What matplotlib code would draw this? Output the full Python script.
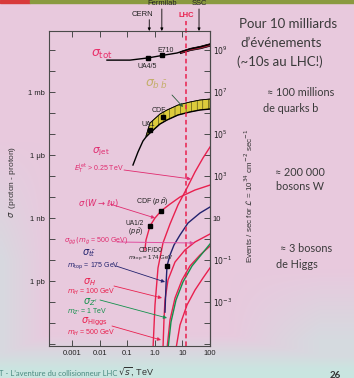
import numpy as np
import matplotlib
matplotlib.use("Agg")
import matplotlib.pyplot as plt
from matplotlib.ticker import NullLocator
from matplotlib.transforms import blended_transform_factory
from matplotlib.patches import Rectangle

plt.rcParams['font.family'] = ['Liberation Sans', 'DejaVu Sans']
plt.rcParams['hatch.linewidth'] = 0.4

W, H = 354, 378
nan = np.nan

# ---------------- data (sqrt(s) in TeV) ----------------
tot_sqrt_s = [0.0185, 0.126, 0.568, 2.34, 6.37, 18.8, 43.4, 100]
tot_sigma_mb = [33, 33, 42, 58, 72, 112, 139, 185]
tot_band_sqrt_s = [8.0, 18.8, 43.4, 100]
tot_band_lo_mb = [70, 98, 120, 160]
tot_band_hi_mb = [88, 128, 160, 215]
tot_pts_sqrt_s = [0.568, 1.8]
tot_pts_mb = [42, 58]

bb_sqrt_s = [0.162, 0.246, 0.373, 0.48, 0.67, 1.54, 2.77, 6.93, 18.8, 43.4, 100]
bb_low_ub = [0.334, 1.39, 4.64, 7.2, 11.2, 29.9, 46.4, 80.4, 112, 139, 155]
bb_high_ub = [nan, nan, nan, 8.0, 33.4, 89.6, 139, 240, 334, 416, 464]
bb_pts_sqrt_s = [0.67, 1.98]
bb_pts_ub = [15.5, 64]

jet_sqrt_s = [0.861, 1.016, 1.306, 1.98, 3.56, 6.93, 14.7, 28.6, 55.7, 100]
jet_sigma_nb = [6e-7, 7.2e-5, 4.2e-3, 0.065, 0.52, 4.2, 27, 155, 720, 2400]

W_sqrt_s = [0.44, 0.48, 0.67, 1.016, 1.68, 3.56, 8.18, 28.6, 100]
W_sigma_nb = [0.03, 0.09, 0.42, 1.0, 2.15, 4.6, 10, 21.5, 37]
W_pts_sqrt_s = [0.67, 1.68]
W_pts_nb = [0.42, 2.15]

tt_sqrt_s = [2.34, 2.55, 2.77, 3.56, 4.97, 8.18, 16.0, 43.4, 100]
tt_sigma_nb = [3.3e-5, 6.5e-4, 5.2e-3, 0.0173, 0.052, 0.155, 0.58, 1.73, 3.34]
tt_pts_sqrt_s = [2.77]
tt_pts_nb = [0.0052]

gg_sqrt_s = [1.98, 2.15, 2.34, 3.01, 5.40, 12.4, 28.6, 100]
gg_sigma_nb = [6e-7, 1.4e-5, 1.24e-4, 1.12e-3, 8.0e-3, 0.030, 0.072, 0.173]

H100_sqrt_s = [2.77, 3.56, 5.40, 9.68, 18.8, 43.4, 100]
H100_sigma_nb = [6e-7, 1.4e-5, 1.55e-4, 1.12e-3, 5.2e-3, 0.0173, 0.046]

Zp_sqrt_s = [3.01, 3.86, 5.86, 10.5, 22.3, 47.2, 100]
Zp_sigma_nb = [6e-7, 1.12e-5, 1.24e-4, 9.0e-4, 5.2e-3, 0.0173, 0.058]

H500_sqrt_s = [5.86, 8.18, 14.7, 28.6, 55.7, 100]
H500_sigma_nb = [6e-7, 8.0e-6, 7.2e-5, 3.7e-4, 1.39e-3, 4.2e-3]

machines = ['CERN', 'Fermilab', 'LHC', 'SSC']
machine_sqrt_s = [0.63, 1.8, 14, 40]

x_ticks = [1e-3, 1e-2, 1e-1, 1, 10, 100]
x_ticklabels = ['0.001', '0.01', '0.1', '1.0', '10', '100']
y_ticks_nb = [1e6, 1e3, 1, 1e-3]
y_ticklabels = ['1 mb', '1 \u03bcb', '1 nb', '1 pb']

# ---------------- figure ----------------
fig = plt.figure(figsize=(3.54, 3.78), dpi=100)

# background (photo-like tint)
bg = fig.add_axes([0, 0, 1, 1], zorder=-10)
gy, gx = np.mgrid[0:H:4, 0:W:4].astype(float)
wb = np.clip((gy - 335) / 35, 0, 1)
wl = np.clip((45 - gx) / 45, 0, 1) * np.clip((gy - 140) / 120, 0, 1) * 0.55
wr = np.clip((gx - 230) / 90, 0, 1) * np.clip((gy - 270) / 70, 0, 1) * 0.6
w = np.maximum(np.maximum(wb, wl), wr)[..., None]
pink = np.array([0.91, 0.79, 0.87])
cyan = np.array([0.79, 0.90, 0.88])
img = pink * (1 - w) + cyan * w
bg.imshow(img, extent=[0, 1, 0, 1], aspect='auto', interpolation='bilinear')
bg.axis('off')
fig.patches.append(Rectangle((0, 1 - 3 / H), 30 / W, 3 / H, transform=fig.transFigure,
                             color='#d83a3a', zorder=-5))
fig.patches.append(Rectangle((30 / W, 1 - 3 / H), 1, 3 / H, transform=fig.transFigure,
                             color='#8a9a40', zorder=-5))

ax = fig.add_axes([49 / W, 1 - 346 / H, 161 / W, 315 / H])
ax.set_facecolor('none')
ax.set_xscale('log')
ax.set_yscale('log')
ax.set_xlim(10 ** -3.833, 100)
ax.set_ylim(10 ** -6.095, 10 ** 8.905)

RED = '#e8204e'
NAVY = '#22226e'
GREEN = '#13914c'

# sigma_tot
ax.plot(tot_sqrt_s, np.array(tot_sigma_mb) * 1e6, color='black', lw=1.0)
ax.fill_between(tot_band_sqrt_s, np.array(tot_band_lo_mb) * 1e6, np.array(tot_band_hi_mb) * 1e6,
                facecolor='#c02040', edgecolor='black', lw=0.5)
ax.plot(tot_pts_sqrt_s, np.array(tot_pts_mb) * 1e6, 's', color='black', ms=2.2)

# sigma_bb
bb_lo = np.array(bb_low_ub) * 1e3
bb_hi = np.array(bb_high_ub) * 1e3
ok = ~np.isnan(bb_hi)
ax.fill_between(np.array(bb_sqrt_s)[ok], bb_lo[ok], bb_hi[ok], facecolor='#dccb3c',
                edgecolor='#3a3a14', hatch='|||', lw=0.5)
ax.plot(bb_sqrt_s, bb_lo, color='black', lw=1.0)
ax.plot(np.array(bb_sqrt_s)[ok], bb_hi[ok], color='black', lw=0.6)
ax.plot(bb_pts_sqrt_s, np.array(bb_pts_ub) * 1e3, 's', color='black', ms=2.4)

# other processes
ax.plot(jet_sqrt_s, jet_sigma_nb, color=RED, lw=1.0)
ax.plot(W_sqrt_s, W_sigma_nb, color=RED, lw=1.0)
ax.plot(W_pts_sqrt_s, W_pts_nb, 's', color='black', ms=2.4)
ax.plot(gg_sqrt_s, gg_sigma_nb, color=RED, lw=1.0)
ax.plot(tt_sqrt_s, tt_sigma_nb, color=NAVY, lw=1.0)
ax.plot(tt_pts_sqrt_s, tt_pts_nb, 's', color='black', ms=2.4)
ax.plot(H100_sqrt_s, H100_sigma_nb, color=RED, lw=1.0)
ax.plot(Zp_sqrt_s, Zp_sigma_nb, color=GREEN, lw=1.0)
ax.plot(H500_sqrt_s, H500_sigma_nb, color=RED, lw=1.0)

# LHC dashed line
ax.axvline(machine_sqrt_s[2], ymin=0, ymax=1.032, color=RED, lw=1.1, ls=(0, (3, 2)), clip_on=False)

# axes ticks
for s in ax.spines.values():
    s.set_color('#4a4a4a')
    s.set_linewidth(0.8)
ax.set_xticks(x_ticks)
ax.set_xticklabels(x_ticklabels)
ax.xaxis.set_minor_locator(NullLocator())
ydec = [10.0 ** k for k in range(-6, 9)]
ax.set_yticks(ydec)
ax.set_yticklabels([y_ticklabels[y_ticks_nb.index(v)] if v in y_ticks_nb else '' for v in ydec])
ax.yaxis.set_minor_locator(NullLocator())
ax.tick_params(axis='both', direction='in', length=4, width=0.7, color='#4a4a4a',
               labelsize=5.5, labelcolor='#222222', top=True, right=False)
ax.tick_params(axis='y', pad=3)
ax.tick_params(axis='x', pad=3)

sec = ax.secondary_yaxis('right', functions=(lambda s: s * 10, lambda r: r / 10))
rdec = [10.0 ** k for k in range(-5, 10)]
rlab = []
for k in range(-5, 10):
    if k in (9, 7, 5, 3, -1, -3):
        rlab.append(r'$10^{%d}$' % k)
    elif k == 1:
        rlab.append('10')
    else:
        rlab.append('')
sec.set_yticks(rdec)
sec.set_yticklabels(rlab)
sec.yaxis.set_minor_locator(NullLocator())
sec.tick_params(axis='y', direction='in', length=4, width=0.7, color='#4a4a4a',
                labelsize=5.5, labelcolor='#222222', pad=2)
sec.spines['right'].set_color('#4a4a4a')
sec.spines['right'].set_linewidth(0.8)

# machine arrows
tr = blended_transform_factory(ax.transData, ax.transAxes)
for name, e in zip(machines, machine_sqrt_s):
    if name == 'LHC':
        ax.text(e, 1.05, name, transform=tr, ha='center', va='center', fontsize=5.5,
                color=RED, fontweight='bold')
        continue
    top = 1.036 if name == 'CERN' else 1.07
    ax.annotate('', xy=(e, 1.0), xytext=(e, top), xycoords=tr, textcoords=tr,
                arrowprops=dict(arrowstyle='-|>', color='black', lw=0.6, mutation_scale=4,
                                shrinkA=0, shrinkB=0), annotation_clip=False)
    ty = 1.052 if name == 'CERN' else 1.087
    ax.text(e if name != 'CERN' else e * 0.55, ty, name, transform=tr, ha='center', va='center',
            fontsize=5.5, color='#222222')


def F(x, y):
    return (x / W, 1 - y / H)


def txt(x, y, s, **kw):
    kw.setdefault('ha', 'left')
    kw.setdefault('va', 'center')
    fig.text(*F(x, y), s, **kw)


def arr(x0, y0, x1, y1, color, lw=0.6):
    fig.add_artist(matplotlib.patches.FancyArrowPatch(
        F(x0, y0), F(x1, y1), transform=fig.transFigure, arrowstyle='-|>',
        mutation_scale=5, color=color, lw=lw, shrinkA=0, shrinkB=0))


LBL = '#e02a6e'
# labels on chart
txt(91, 54, r'$\sigma_{\rm tot}$', fontsize=9, color='#e8306a')
txt(157, 50, 'E710', fontsize=5, color='#222222')
txt(138, 66, 'UA4/5', fontsize=5, color='#222222')
txt(145, 84, r'$\sigma_{b\;\bar b}$', fontsize=9, color='#c4ae6a')
arr(172, 95, 183, 107, '#2a5a3a')
txt(152, 110, 'CDF', fontsize=5, color='#222222')
txt(141, 124, 'UA1', fontsize=5, color='#222222')
txt(92, 152, r'$\sigma_{\rm jet}$', fontsize=7.5, color=LBL)
txt(74, 168, r'$E_T^{\rm jet}$ > 0.25 TeV', fontsize=5, color=LBL)
arr(124, 170, 191, 179, LBL)
txt(78, 203, r'$\sigma\,(W\rightarrow\ell\nu)$', fontsize=6, color=LBL)
arr(110, 204, 155, 218, LBL)
txt(136, 202, r'CDF ($p\,\bar p$)', fontsize=5, color='#222222')
txt(125, 223, 'UA1/2', fontsize=4.8, color='#222222')
txt(128, 232, r'($p\,\bar p$)', fontsize=4.8, color='#222222')
txt(64, 241, r'$\sigma_{\tilde g\tilde g}\,(m_{\tilde g}$ = 500 GeV)', fontsize=5, color=LBL)
arr(117, 242, 194, 243, '#e050a0', lw=0.7)
txt(82, 253, r'$\sigma_{t\bar t}$', fontsize=7, color=NAVY)
txt(67, 266, r'$m_{\rm top}$ = 175 GeV', fontsize=5, color=NAVY)
arr(116, 266, 165, 282, NAVY)
txt(139, 250, 'CDF/D0', fontsize=4.8, color='#222222')
txt(128, 259, r'$m_{\rm top}$ = 174 GeV', fontsize=4.3, color='#222222')
txt(83, 282, r'$\sigma_{H}$', fontsize=7, color=RED)
txt(67, 292, r'$m_H$ = 100 GeV', fontsize=5, color=RED)
arr(114, 286, 162, 298, RED)
txt(83, 302, r"$\sigma_{Z'}$", fontsize=7, color=GREEN)
txt(67, 312, r"$m_{Z'}$ = 1 TeV", fontsize=5, color=GREEN)
arr(100, 300, 167, 318, GREEN)
txt(81, 322, r'$\sigma_{\rm Higgs}$', fontsize=7, color=RED)
txt(67, 333, r'$m_H$ = 500 GeV', fontsize=5, color=RED)
arr(112, 326, 161, 340, RED)

# axis titles
txt(12, 182, r'$\sigma$  (proton - proton)', fontsize=6, color='#333333', rotation=90, ha='center')
txt(249, 196, r'Events / sec for $\mathcal{L}$ = 10$^{34}$ cm$^{-2}$ sec$^{-1}$', fontsize=5.8,
    color='#333333', rotation=90, ha='center')
txt(118, 372, r'$\sqrt{s}$, TeV', fontsize=6.5, color='#333333')

# slide text
SL = ['Lato', 'DejaVu Sans']
txt(288, 24, 'Pour 10 milliards', fontsize=9.5, color='#3a3a3a', ha='center', family=SL)
txt(281, 43, "d\u2019\u00e9v\u00e9nements", fontsize=9.5, color='#3a3a3a', ha='center', family=SL)
txt(280, 62, '(~10s au LHC!)', fontsize=9.5, color='#3a3a3a', ha='center', family=SL)
txt(301, 92, '\u2248 100 millions', fontsize=7.8, color='#3a3a3a', ha='center', family=SL)
txt(291, 108, 'de quarks b', fontsize=7.8, color='#3a3a3a', ha='center', family=SL)
txt(300, 172, '\u2248 200 000', fontsize=7.8, color='#3a3a3a', ha='center', family=SL)
txt(300, 187, 'bosons W', fontsize=7.8, color='#3a3a3a', ha='center', family=SL)
txt(306, 248, '\u2248 3 bosons', fontsize=7.8, color='#3a3a3a', ha='center', family=SL)
txt(297, 264, 'de Higgs', fontsize=7.8, color='#3a3a3a', ha='center', family=SL)
txt(-1, 373, "T - L\u2019aventure du collisionneur LHC", fontsize=5.5, color='#4a8a80', family=SL)
txt(335, 375, '26', fontsize=7, color='#333333', ha='center', family=SL, fontweight='bold')

fig.savefig('out.png', dpi=100)
